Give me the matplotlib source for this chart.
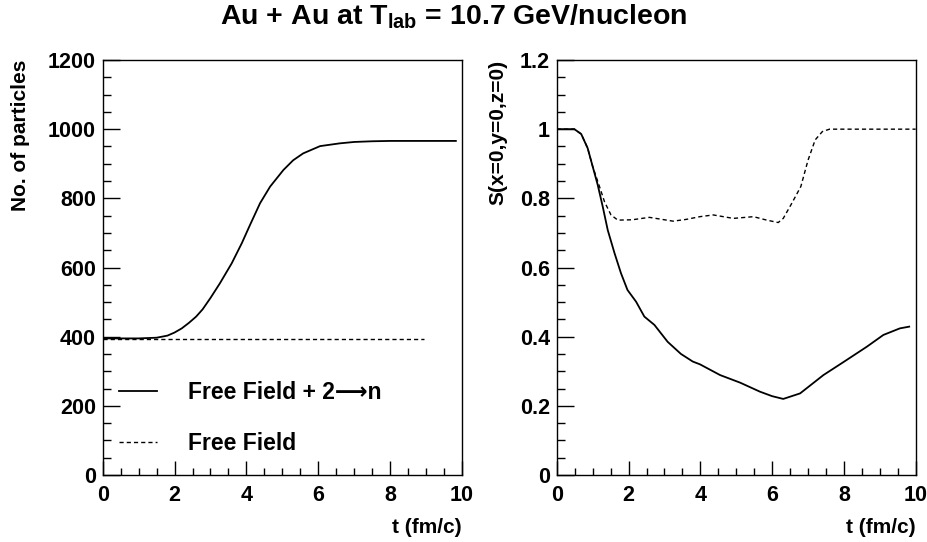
import matplotlib
matplotlib.use("Agg")
import matplotlib.pyplot as plt
from matplotlib.ticker import MultipleLocator, FuncFormatter

plt.rcParams['font.family'] = ['Liberation Sans', 'DejaVu Sans']
plt.rcParams['font.weight'] = 'bold'
plt.rcParams['mathtext.fontset'] = 'custom'
plt.rcParams['mathtext.bf'] = 'Liberation Sans:bold'
plt.rcParams['mathtext.rm'] = 'Liberation Sans:bold'

# --- data ---
t_num = [0.0, 1.0, 1.5, 1.8, 2.0, 2.2, 2.4, 2.6, 2.78, 3.0, 3.26, 3.59, 3.87, 4.10,
         4.38, 4.66, 5.03, 5.3, 5.58, 6.05, 6.6, 7.0, 7.5, 8.0, 9.0, 9.83]
n_2ton = [395, 395, 397, 403, 412, 424, 440, 458, 479, 512, 554, 612, 670, 723,
          786, 834, 882, 910, 930, 951, 959, 963, 965, 966, 966, 966]
t_free_num = [0.0, 8.93]
n_free = [394, 394]

t_s = [0.0, 0.49, 0.68, 0.86, 1.0, 1.14, 1.28, 1.42, 1.61, 1.79, 1.97, 2.21, 2.44,
       2.72, 3.09, 3.46, 3.79, 3.99, 4.55, 5.11, 5.66, 6.0, 6.31, 6.78, 7.43, 7.98,
       8.64, 9.10, 9.56, 9.82]
s_2ton = [1.0, 1.0, 0.986, 0.945, 0.892, 0.839, 0.776, 0.708, 0.641, 0.583, 0.535,
          0.501, 0.458, 0.434, 0.385, 0.35, 0.328, 0.32, 0.289, 0.267, 0.241, 0.228,
          0.22, 0.236, 0.289, 0.326, 0.371, 0.405, 0.424, 0.429]
t_s_free = [0.0, 0.49, 0.68, 0.86, 1.0, 1.19, 1.33, 1.51, 1.70, 2.1, 2.58, 3.24,
            3.6, 3.99, 4.36, 4.92, 5.48, 5.85, 6.17, 6.31, 6.55, 6.8, 7.0, 7.2,
            7.4, 7.6, 8.0, 10.0]
s_free = [1.0, 1.0, 0.986, 0.945, 0.892, 0.834, 0.79, 0.752, 0.737, 0.738, 0.745,
          0.734, 0.739, 0.747, 0.752, 0.742, 0.747, 0.737, 0.73, 0.742, 0.786,
          0.834, 0.91, 0.969, 0.993, 1.0, 1.0, 1.0]

title = r'Au + Au at T$_{\mathbf{lab}}$ = 10.7 GeV/nucleon'
xlabel = 't (fm/c)'
ylabel_left = 'No. of particles'
ylabel_right = 'S(x=0,y=0,z=0)'
labels = ['Free Field + 2\u27f6n', 'Free Field']

fig = plt.figure(figsize=(9.28, 5.42), dpi=100)
ax1 = fig.add_axes([0.1107, 0.1236, 0.3871, 0.7657])
ax2 = fig.add_axes([0.600, 0.1236, 0.3867, 0.7657])

dash = (0, (3, 2.2))


def style(ax, ymax, ymaj, ymin, fmt):
    ax.set_xlim(0, 10)
    ax.set_ylim(0, ymax)
    ax.xaxis.set_major_locator(MultipleLocator(2))
    ax.xaxis.set_minor_locator(MultipleLocator(0.5))
    ax.yaxis.set_major_locator(MultipleLocator(ymaj))
    ax.yaxis.set_minor_locator(MultipleLocator(ymin))
    ax.yaxis.set_major_formatter(FuncFormatter(fmt))
    ax.tick_params(which='both', direction='in', top=False, right=False,
                   labelsize=15.5, width=1)
    ax.tick_params(axis='x', which='major', length=10, pad=7)
    ax.tick_params(axis='x', which='minor', length=5)
    ax.tick_params(axis='y', which='major', length=12, pad=5)
    ax.tick_params(axis='y', which='minor', length=6)
    for lab in ax.get_xticklabels() + ax.get_yticklabels():
        lab.set_fontweight('bold')
    for sp in ax.spines.values():
        sp.set_linewidth(1.0)
    ax.set_xlabel(xlabel, fontsize=15, fontweight='bold', loc='right', labelpad=9)


# left panel
l1, = ax1.plot(t_num, n_2ton, color='black', lw=1.3)
l2, = ax1.plot(t_free_num, n_free, color='black', lw=1.0, linestyle=dash)
style(ax1, 1200, 200, 50, lambda v, p: f'{v:.0f}')
ax1.set_ylabel(ylabel_left, fontsize=15, fontweight='bold', loc='top', labelpad=13)
ax1.legend([l1, l2], labels, loc='upper left', bbox_to_anchor=(0.045, 0.227),
           frameon=False, handlelength=1.65, handletextpad=1.35,
           labelspacing=1.25, borderpad=0, borderaxespad=0,
           prop={'weight': 'bold', 'size': 16.5})

# right panel
ax2.plot(t_s, s_2ton, color='black', lw=1.3)
ax2.plot(t_s_free, s_free, color='black', lw=1.0, linestyle=dash)
style(ax2, 1.2, 0.2, 0.05, lambda v, p: f'{v:g}')
ax2.set_ylabel(ylabel_right, fontsize=15, fontweight='bold', loc='top', labelpad=9)

fig.text(0.489, 0.955, title, ha='center', va='baseline', fontsize=20.5, fontweight='bold')

fig.savefig('out.png', dpi=100)
